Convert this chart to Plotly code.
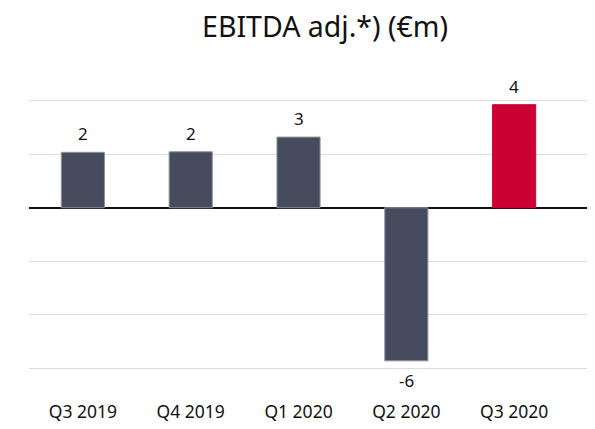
import plotly.graph_objects as go

categories = ["Q3 2019", "Q4 2019", "Q1 2020", "Q2 2020", "Q3 2020"]
values = [2.07, 2.09, 2.64, -5.72, 3.85]
bar_colors = ["#464c5e", "#464c5e", "#464c5e", "#464c5e", "#cc0033"]
line_colors = ["#8d919c", "#8d919c", "#8d919c", "#8d919c", "#cc0033"]
title_text = "EBITDA adj.*) (€m)"

FONT = "Noto Sans"
# the page body adds an 8px offset, so the figure is laid out 8px smaller
W, H = 587, 421

fig = go.Figure(
    go.Bar(
        x=categories,
        y=values,
        marker=dict(color=bar_colors, line=dict(color=line_colors, width=1)),
        cliponaxis=False,
        width=0.4,
    )
)

for c, v in zip(categories, values):
    fig.add_annotation(
        x=c, y=v, text=f"{round(v):d}", showarrow=False,
        yanchor="bottom" if v >= 0 else "top",
        yshift=5 if v >= 0 else -6,
        font=dict(family=FONT, size=17, color="#111111"),
    )

fig.update_layout(
    width=W,
    height=H,
    margin=dict(l=21, r=0, t=90, b=58),
    paper_bgcolor="white",
    plot_bgcolor="white",
    showlegend=False,
    title=dict(
        text=title_text,
        x=307 / W,
        xanchor="center",
        xref="paper",
        y=1 - 19 / H,
        yanchor="middle",
        yref="container",
        font=dict(family=FONT, size=28.5, color="#111111"),
    ),
    xaxis=dict(
        range=[-0.5, 4.75],
        showgrid=False,
        showline=False,
        ticks="",
        automargin=False,
        tickfont=dict(family=FONT, size=17.5, color="#111111"),
        ticklabelstandoff=28,
    ),
    yaxis=dict(
        range=[-6.1, 4.1],
        dtick=2,
        showgrid=True,
        gridcolor="#dcdcdc",
        gridwidth=1,
        zeroline=True,
        zerolinecolor="#111111",
        zerolinewidth=2,
        showticklabels=False,
        ticks="",
        automargin=False,
    ),
)

fig.write_html("out.html")
